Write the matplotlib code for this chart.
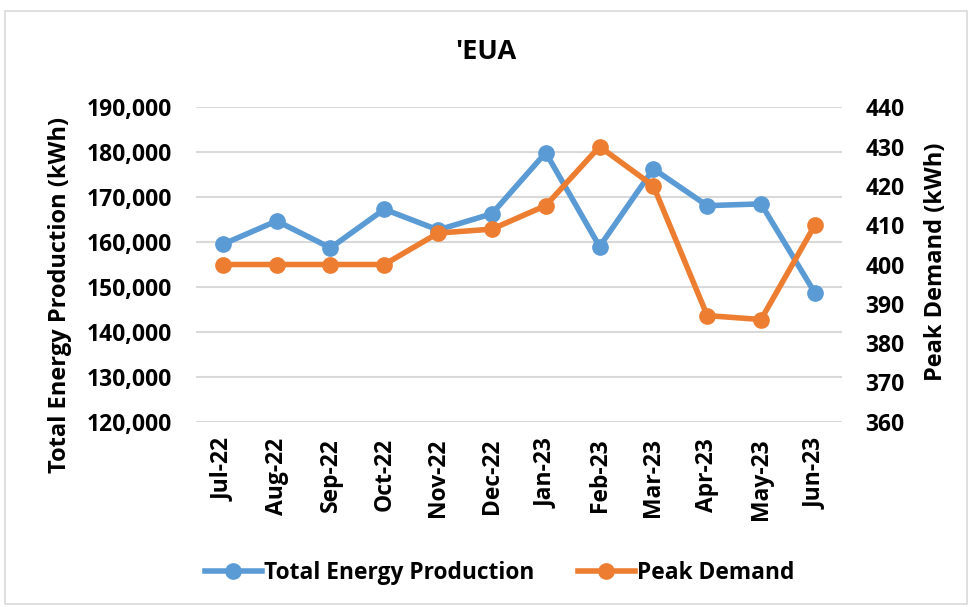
import matplotlib
matplotlib.use("Agg")
from matplotlib import pyplot as plt
from matplotlib.patches import Rectangle
from matplotlib.ticker import FuncFormatter

MONTHS = ["Jul-22", "Aug-22", "Sep-22", "Oct-22", "Nov-22", "Dec-22",
          "Jan-23", "Feb-23", "Mar-23", "Apr-23", "May-23", "Jun-23"]
ENERGY = [159500, 164700, 158700, 167300, 162700, 166300,
          179900, 159000, 176300, 168100, 168500, 148700]
PEAK = [400, 400, 400, 400, 408, 409, 415, 430, 420, 387, 386, 410]

BLUE = "#5B9BD5"
ORANGE = "#ED7D31"

plt.rcParams["font.family"] = ["Open Sans", "DejaVu Sans"]
plt.rcParams["font.weight"] = "bold"

fig = plt.figure(figsize=(9.72, 6.07), dpi=100)
fig.patches.append(Rectangle((0.005, 0.005), 0.99, 0.977, transform=fig.transFigure,
                             fill=False, edgecolor="#d9d9d9", linewidth=1.2))

ax = fig.add_axes([0.2016, 0.3053, 0.6644, 0.5179])
ax2 = ax.twinx()

x = list(range(len(MONTHS)))
l1, = ax.plot(x, ENERGY, color=BLUE, lw=4, marker="o", ms=11, label="Total Energy Production")
l2, = ax2.plot(x, PEAK, color=ORANGE, lw=4, marker="o", ms=11, label="Peak Demand")

ax.set_ylim(120000, 190000)
ax.set_yticks(range(120000, 190001, 10000))
ax.yaxis.set_major_formatter(FuncFormatter(lambda v, p: f"{int(v):,}"))
ax2.set_ylim(360, 440)
ax2.set_yticks(range(360, 441, 10))
ax.set_xlim(-0.5, len(MONTHS) - 0.5)
ax.set_xticks(x)
ax.set_xticklabels(MONTHS, rotation=90)

ax.grid(axis="y", color="#d9d9d9", lw=1.5)
ax.set_axisbelow(True)
for a in (ax, ax2):
    for s in a.spines.values():
        s.set_visible(False)
    a.tick_params(length=0, labelsize=16.5)
ax.tick_params(axis="y", pad=17)
ax2.tick_params(axis="y", pad=17)
ax.tick_params(axis="x", pad=12)

ax.set_ylabel("Total Energy Production (kWh)", fontsize=17, fontweight="bold", va="center")
ax.yaxis.set_label_coords(-0.2105, 0.403)
ax2.set_ylabel("Peak Demand (kWh)", fontsize=17, fontweight="bold", va="center")
ax2.yaxis.set_label_coords(1.1455, 0.508)
fig.text(0.5, 0.914, "'EUA", ha="center", va="center", fontsize=19.5, fontweight="bold")

fig.legend(handles=[l1, l2], loc="center", bbox_to_anchor=(0.514, 0.056), ncol=2,
           frameon=False, fontsize=16.4, handlelength=2.5, columnspacing=1.9, handletextpad=0.1)

fig.savefig("out.png", dpi=100)
